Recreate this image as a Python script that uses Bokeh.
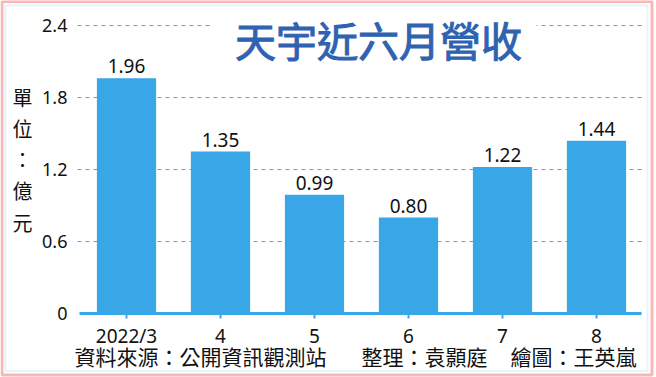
from bokeh.plotting import figure
from bokeh.models import ColumnDataSource, Range1d, FixedTicker, Label, BoxAnnotation
from bokeh.core.properties import value
from bokeh.embed import file_html
from bokeh.resources import INLINE

months = ["2022/3", "4", "5", "6", "7", "8"]
revenue = [1.96, 1.35, 0.99, 0.80, 1.22, 1.44]
value_labels = ["1.96", "1.35", "0.99", "0.80", "1.22", "1.44"]
y_ticks = [0, 0.6, 1.2, 1.8, 2.4]
y_tick_labels = ["0", "0.6", "1.2", "1.8", "2.4"]
title_text = "天宇近六月營收"
unit_text = "單\n位\n：\n億\n元"
footer_parts = ["資料來源：公開資訊觀測站", "整理：袁顥庭", "繪圖：王英嵐"]

BLUE = "#39a6e8"
GRID = "#3fa9f0"
NUM_FONT = "Noto Sans"
CJK_FONT = "Noto Sans CJK TC"
W, H = 656, 377

# pixel layout: category i centred at 126 + 94*i px, value 0 at 313 px, 120 px per unit
PX_X0, PX_DX = 126.0, 94.0
PX_Y0, PX_DY = 313.0, 120.0
x_rng = Range1d((0 - PX_X0) / PX_DX, (W - PX_X0) / PX_DX)
y_rng = Range1d(-(H - PX_Y0) / PX_DY, PX_Y0 / PX_DY)

xi = list(range(len(months)))
src = ColumnDataSource(dict(x=xi, v=revenue, t=value_labels))

p = figure(width=W, height=H, output_backend="svg", toolbar_location=None,
           x_range=x_rng, y_range=y_rng,
           min_border_left=0, min_border_right=0, min_border_top=0, min_border_bottom=0)
p.background_fill_color = "white"
p.border_fill_color = "white"
p.outline_line_color = None
p.xgrid.visible = False
p.ygrid.visible = False

x_left = (79 - PX_X0) / PX_DX
x_right = (641 - PX_X0) / PX_DX

# dashed horizontal gridlines
p.segment(x0=[(77 - PX_X0) / PX_DX] * 4, x1=[x_right] * 4, y0=y_ticks[1:], y1=y_ticks[1:],
          line_color=GRID, line_dash="4 4", line_width=1.2)

p.vbar(x="x", top="v", width=0.63, source=src, fill_color=BLUE, line_color=None)
p.text(x="x", y="v", text="t", source=src, y_offset=-5, text_align="center",
       text_baseline="bottom", text_font=value(NUM_FONT), text_font_size="19px",
       text_color="#111111")

# axes placed inside the canvas
p.yaxis.fixed_location = x_left
p.yaxis.ticker = FixedTicker(ticks=y_ticks)
p.yaxis.major_label_overrides = {t: l for t, l in zip(y_ticks, y_tick_labels)}
p.yaxis.axis_line_color = None
p.yaxis.major_tick_line_color = None
p.yaxis.minor_tick_line_color = None
p.yaxis.major_label_standoff = 6
p.yaxis.major_label_text_font = NUM_FONT
p.yaxis.major_label_text_font_size = "18px"
p.yaxis.major_label_text_color = "#111111"

p.xaxis.fixed_location = 0
p.xaxis.bounds = (x_left, x_right)
p.xaxis.ticker = FixedTicker(ticks=xi)
p.xaxis.major_label_overrides = {i: m for i, m in zip(xi, months)}
p.xaxis.axis_line_color = BLUE
p.xaxis.axis_line_width = 3
p.xaxis.major_tick_line_color = BLUE
p.xaxis.major_tick_line_width = 2
p.xaxis.minor_tick_line_color = None
p.xaxis.major_tick_out = 5
p.xaxis.major_tick_in = 0
p.xaxis.major_label_standoff = 4
p.xaxis.major_label_text_font = NUM_FONT
p.xaxis.major_label_text_font_size = "19px"
p.xaxis.major_label_text_color = "#111111"

# white gap behind title
p.add_layout(BoxAnnotation(left=212, right=536, top=20, bottom=31,
                           left_units="canvas", right_units="canvas",
                           top_units="canvas", bottom_units="canvas",
                           fill_color="white", fill_alpha=1, line_color=None))

p.add_layout(Label(x=378, y=38, x_units="canvas", y_units="canvas", text=title_text,
                   text_align="center", text_baseline="middle", text_font=CJK_FONT,
                   text_font_size="41px", text_font_style="normal", text_color="#2f62b0",
                   text_outline_color="#2f62b0"))

p.add_layout(Label(x=22, y=82, x_units="canvas", y_units="canvas", text=unit_text,
                   text_align="center", text_baseline="top", text_font=CJK_FONT,
                   text_font_size="20px", text_color="#111111", text_line_height=1.08))

footer_x = [74, 361, 510]
for fx, ft in zip(footer_x, footer_parts):
    p.add_layout(Label(x=fx, y=355, x_units="canvas", y_units="canvas", text=ft,
                       text_align="left", text_baseline="middle", text_font=CJK_FONT,
                       text_font_size="21px", text_color="#111111"))

# frame borders
p.add_layout(BoxAnnotation(left=1.5, right=651.5, top=1, bottom=374.5,
                           left_units="canvas", right_units="canvas",
                           top_units="canvas", bottom_units="canvas",
                           fill_alpha=0, line_color="#ee1111", line_width=3))
p.add_layout(BoxAnnotation(left=5, right=647, top=5, bottom=370.5,
                           left_units="canvas", right_units="canvas",
                           top_units="canvas", bottom_units="canvas",
                           fill_alpha=0, line_color="#b3d6f2", line_width=2))

open("out.html", "w").write(file_html(p, INLINE))
